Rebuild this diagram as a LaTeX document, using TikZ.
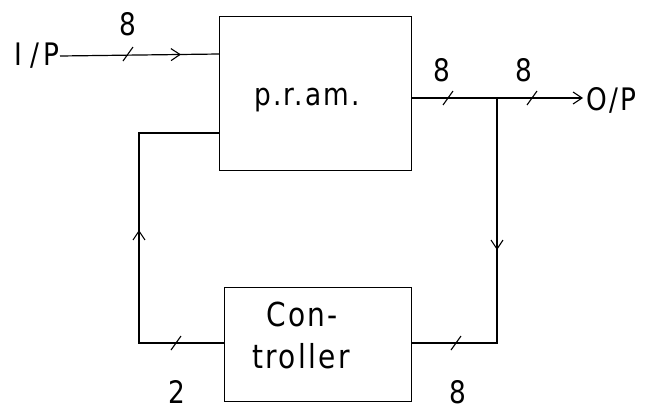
\documentclass[tikz,border=0pt]{standalone}
\usepackage{fontspec}
\setmainfont{DejaVu Sans}[FakeStretch=0.85,LetterSpace=7]
\usetikzlibrary{arrows.meta,decorations.markings,calc}
\tikzset{
  blk/.style={draw, line width=1pt, inner sep=0pt, anchor=north west},
  lbl/.style={inner sep=0pt, font=\fontsize{31}{34}\selectfont},
  wire/.style={line width=1.2pt},
  bus/.style={line width=1.7pt},
  tip/.style={-{Straight Barb[length=9pt,width=12pt,line width=1.1pt]}},
  midtip/.style={decoration={markings, mark=at position #1 with {\arrow{Straight Barb[length=9pt,width=12pt,line width=1.1pt]}}}, postaction=decorate},
  slashmark/.style={line width=1.1pt}
}
\newcommand{\busslash}[1]{\draw[slashmark] ($(#1)+(-5,7)$) -- ($(#1)+(5,-7)$);}
\begin{document}
\begin{tikzpicture}[x=1pt,y=-1pt]
\useasboundingbox (0,0) rectangle (648,410);
% blocks
\node[blk, minimum width=192pt, minimum height=154pt] (pram) at (219,16) {};
\node[blk, minimum width=187pt, minimum height=114pt] (ctrl) at (224,287) {};
\node[lbl] (pramtxt) at (307,100) {p.r.am.};
\node[lbl, font=\fontsize{33}{36}\selectfont] (con) at (302,314) {Con-};
\node[lbl, font=\fontsize{33}{36}\selectfont] (trl) at (301,356) {troller};
% terminals
\node[lbl, anchor=east] (ip) at (60,56) {I\kern8pt/\kern5pt P};
\node[lbl, anchor=west] (op) at (586,100) {O/P};
% coordinates
\coordinate (pin) at (219,54);
\coordinate (fbtop) at (219,133);
\coordinate (fbl1) at (139,133);
\coordinate (fbl2) at (139,343);
\coordinate (cin) at (224,343);
\coordinate (pout) at (411,98);
\coordinate (jn) at (497,98);
\coordinate (oend) at (583,98);
\coordinate (jd) at (497,343);
\coordinate (cout) at (411,343);
% input
\draw[wire, midtip=121pt] (ip.east) -- (pin);
% output
\draw[bus] (pout) -- (jn);
\draw[wire, tip] (jn) -- (oend);
% down to controller
\draw[wire, midtip=152pt] (jn) -- (jd) -- (cout);
% feedback
\draw[wire, midtip=198pt] (cin) -- (fbl2) -- (fbl1) -- (fbtop);
% slashes
\coordinate (s1) at (128,54);
\coordinate (s2) at (448,98);
\coordinate (s3) at (532,98);
\coordinate (s4) at (176,343);
\coordinate (s5) at (456,343);
\busslash{s1}\busslash{s2}\busslash{s3}\busslash{s4}\busslash{s5}
% width labels
\node[lbl] (w1) at (128,24) {8};
\node[lbl] (w2) at (442,70) {8};
\node[lbl] (w3) at (524,70) {8};
\node[lbl] (w4) at (177,392) {2};
\node[lbl] (w5) at (458,392) {8};
\end{tikzpicture}
\end{document}
